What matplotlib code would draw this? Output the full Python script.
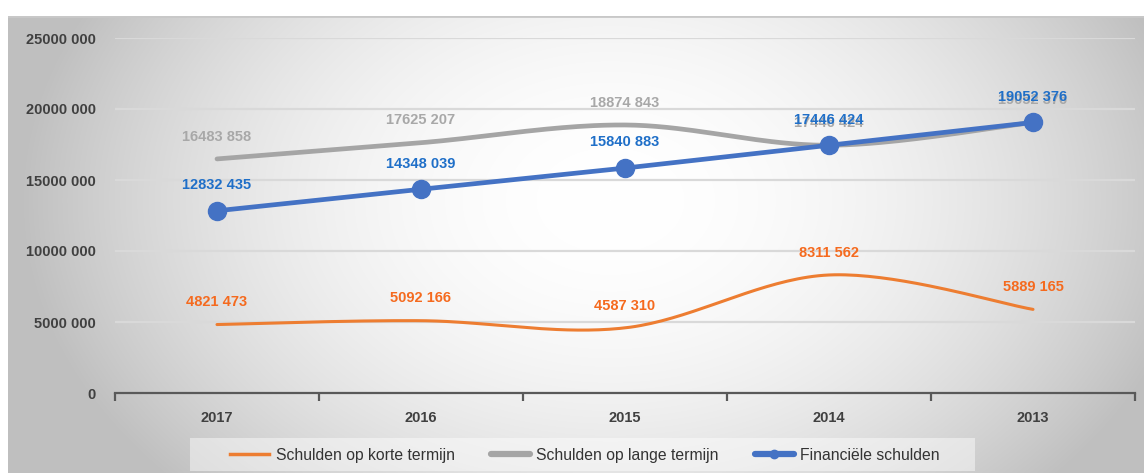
import numpy as np
import matplotlib
matplotlib.use("Agg")
import matplotlib.pyplot as plt
import matplotlib.lines as mlines
from matplotlib.patches import Rectangle
from matplotlib.ticker import FixedLocator, FuncFormatter

plt.rcParams.update({
    "font.family": ["Liberation Sans", "DejaVu Sans"],
    "axes.edgecolor": "#595959",
})

years = ["2017", "2016", "2015", "2014", "2013"]
korte = [4821473, 5092166, 4587310, 8311562, 5889165]
lange = [16483858, 17625207, 18874843, 17446424, 19052376]
financieel = [12832435, 14348039, 15840883, 17446424, 19052376]

ORANGE = "#ED7D31"
GREY = "#A5A5A5"
BLUE = "#4472C4"
ORANGE_TXT = "#F56A1E"
GREY_TXT = "#A8A8A8"
BLUE_TXT = "#1F6FC8"
TICK_TXT = "#404040"


def smooth(xs, ys, n=40):
    """Catmull-Rom style smoothing through every point (like a spreadsheet's smoothed line)."""
    xs = np.asarray(xs, float)
    ys = np.asarray(ys, float)
    px = np.concatenate([[xs[0]], xs, [xs[-1]]])
    py = np.concatenate([[ys[0]], ys, [ys[-1]]])
    out_x, out_y = [], []
    t = np.linspace(0, 1, n)
    for i in range(1, len(px) - 2):
        p0 = np.array([px[i], py[i]])
        p3 = np.array([px[i + 1], py[i + 1]])
        p1 = p0 + (np.array([px[i + 1], py[i + 1]]) - np.array([px[i - 1], py[i - 1]])) / 6
        p2 = p3 - (np.array([px[i + 2], py[i + 2]]) - np.array([px[i], py[i]])) / 6
        b = ((1 - t) ** 3)[:, None] * p0 + (3 * (1 - t) ** 2 * t)[:, None] * p1 \
            + (3 * (1 - t) * t ** 2)[:, None] * p2 + (t ** 3)[:, None] * p3
        out_x.extend(b[:, 0])
        out_y.extend(b[:, 1])
    return np.array(out_x), np.array(out_y)


W, H = 1144, 473
fig = plt.figure(figsize=(W / 100, H / 100), dpi=100)

# radial background fill
bg = fig.add_axes([8 / W, 0, 1 - 8 / W, (H - 16) / H])
gx, gy = np.meshgrid(np.arange(8, W), np.arange(16, H))
d = np.sqrt(((gx - 610) / 590) ** 2 + ((gy - 200) / 420) ** 2)
shade = 1 - 0.25 * np.clip(d, 0, 1) ** 2.0
bg.imshow(np.dstack([shade] * 3), aspect="auto", interpolation="bilinear")
bg.axhline(0, color="#C8C8C8", lw=2)
bg.axis("off")

# legend strip
fig.patches.append(Rectangle((190 / W, 1 - 471 / H), (975 - 190) / W, 33 / H,
                             transform=fig.transFigure, facecolor="white",
                             alpha=0.45, edgecolor="none", zorder=1))

ax = fig.add_axes([115 / W, 80 / H, (1135 - 115) / W, (393 - 38) / H])
ax.patch.set_alpha(0)
x = np.arange(len(years))

ax.set_xlim(-0.5, len(years) - 0.5)
ax.set_ylim(0, 25000000)
ax.set_yticks(np.arange(0, 25000001, 5000000))
ax.yaxis.set_major_formatter(FuncFormatter(
    lambda v, p: "0" if v == 0 else f"{int(v) // 1000} {int(v) % 1000:03d}"))
ax.grid(axis="y", color="#D9D9D9", lw=1.6)
ax.set_axisbelow(True)
for s in ["top", "right", "left"]:
    ax.spines[s].set_visible(False)
ax.spines["bottom"].set_linewidth(1.6)

ax.set_xticks(x)
ax.set_xticklabels(years)
ax.xaxis.set_minor_locator(FixedLocator(np.arange(-0.5, len(years), 1.0)))
ax.tick_params(axis="x", which="major", length=0, pad=13, labelsize=10.5, labelcolor=TICK_TXT)
ax.tick_params(axis="x", which="minor", length=6, width=1.6, color="#595959", direction="out")
ax.tick_params(axis="y", length=0, pad=14, labelsize=10.5, labelcolor=TICK_TXT)
for lab in ax.get_xticklabels() + ax.get_yticklabels():
    lab.set_fontweight("bold")

# lines
sx, sy = smooth(x, korte)
ax.plot(sx, sy, color=ORANGE, lw=2.2, solid_capstyle="round", zorder=3)
sx, sy = smooth(x, lange)
ax.plot(sx, sy, color=GREY, lw=3.4, solid_capstyle="round", zorder=3)
ax.plot(x, financieel, color=BLUE, lw=3.4, marker="o", markersize=13, zorder=4)


def label(vals, color, dy):
    for xi, v in zip(x, vals):
        ax.annotate(f"{v // 1000} {v % 1000:03d}", (xi, v), xytext=(0, dy),
                    textcoords="offset points", ha="center", va="center",
                    fontsize=10.5, fontweight="bold", color=color, zorder=6)


label(korte, ORANGE_TXT, 16)
label(lange, GREY_TXT, 16)
label(financieel, BLUE_TXT, 18.5)

handles = [
    mlines.Line2D([], [], color=ORANGE, lw=2.5, label="Schulden op korte termijn"),
    mlines.Line2D([], [], color=GREY, lw=4.5, solid_capstyle="round", label="Schulden op lange termijn"),
    mlines.Line2D([], [], color=BLUE, lw=4.5, solid_capstyle="round", marker="o", markersize=6,
                  label="Financiële schulden"),
]
leg = fig.legend(handles=handles, loc="center", bbox_to_anchor=(585 / W, 1 - 455 / H),
                 ncol=3, frameon=False, fontsize=11.3, handlelength=2.5, handletextpad=0.4,
                 columnspacing=2.3)
for t in leg.get_texts():
    t.set_color("#333333")

fig.savefig("out.png", dpi=100)
